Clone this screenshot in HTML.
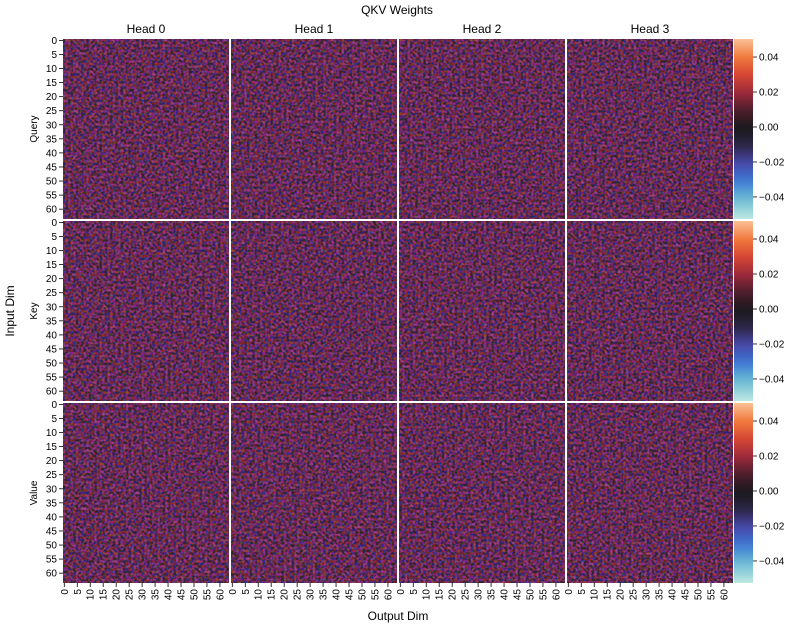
<!DOCTYPE html>
<html><head><meta charset="utf-8"><style>
body{margin:0;background:#fff}
svg{display:block;font-family:"Liberation Sans","DejaVu Sans",sans-serif}
</style></head><body>
<svg id="fig" width="793" height="626" viewBox="0 0 793 626">
<defs>
<linearGradient id="cbg" x1="0" y1="1" x2="0" y2="0"></linearGradient>
<filter id="noise" x="0" y="0" width="100%" height="100%">
<feTurbulence type="fractalNoise" baseFrequency="0.38" numOctaves="1" seed="3"/>
<feColorMatrix type="matrix" values="1.6 0.5 0 0 -0.9  0 0.2 0 0 -0.1  0 0.3 1.6 0 -0.85  0 0 0 0 0.55"/>
</filter>
</defs>
<text x="397" y="14" text-anchor="middle" font-size="12">QKV Weights</text>
<text x="14" y="311" text-anchor="middle" font-size="12" transform="rotate(-90 14 311)">Input Dim</text>
<text x="398" y="620" text-anchor="middle" font-size="12">Output Dim</text>
<g id="plots"></g>
</svg>
<script>
const heads = ["Head 0","Head 1","Head 2","Head 3"];
const rowsLabels = ["Query","Key","Value"];
const panelMeans = [0.000,0.000,0.000,-0.001, 0.000,-0.001,0.000,-0.001, 0.000,0.000,-0.001,0.000];
const panelSpread = [0.048,0.048,0.048,0.048, 0.048,0.048,0.048,0.048, 0.048,0.048,0.048,0.048];
const tickIdx = [0,5,10,15,20,25,30,35,40,45,50,55,60];
const cbTicks = [0.04,0.02,0.00,-0.02,-0.04];
const vmin=-0.0526, vmax=0.0503, nCells=64;
const stops=[[-0.0526,[190,232,226]],[-0.04,[100,182,210]],[-0.03,[60,115,212]],[-0.02,[72,70,165]],[-0.01,[42,36,64]],[0,[26,25,28]],[0.01,[80,30,45]],[0.02,[160,42,60]],[0.03,[215,72,52]],[0.04,[240,122,62]],[0.0503,[250,192,150]]];
function cmap(v){v=Math.max(vmin,Math.min(vmax,v));for(let i=1;i<stops.length;i++){if(v<=stops[i][0]){const a=stops[i-1],b=stops[i],t=(v-a[0])/(b[0]-a[0]);return a[1].map((c,k)=>c+(b[1][k]-c)*t);}}return stops[stops.length-1][1];}
function avgColor(m,s){let acc=[0,0,0],n=40;for(let i=0;i<n;i++){const c=cmap(m-s+2*s*(i+0.5)/n);acc=acc.map((x,k)=>x+c[k]);}return 'rgb('+acc.map(x=>Math.round(x/n*0.92)).join(',')+')';}
const NS="http://www.w3.org/2000/svg";
const g=document.getElementById('plots');
function el(t,a,p){const e=document.createElementNS(NS,t);for(const k in a)e.setAttribute(k,a[k]);(p||g).appendChild(e);return e;}
const colX=[63,231,399,567], rowY=[39,221,403], pw=166, ph=180;
const xS=(c,i)=>colX[c]+(i+0.5)*pw/nCells, yS=(r,i)=>rowY[r]+(i+0.5)*ph/nCells;
const cbY=(r,v)=>rowY[r]+(vmax-v)/(vmax-vmin)*ph;
const gr=document.getElementById('cbg');
for(let i=0;i<=20;i++){const v=vmin+(vmax-vmin)*i/20;const c=cmap(v);el('stop',{offset:(i/20),'stop-color':'rgb('+c.map(Math.round).join(',')+')'},gr);}
heads.forEach((h,c)=>{const t=el('text',{x:colX[c]+pw/2,y:33,'text-anchor':'middle','font-size':12});t.textContent=h;

});
rowsLabels.forEach((lab,r)=>{
 const t=el('text',{x:37,y:rowY[r]+ph/2,'text-anchor':'middle','font-size':10,transform:'rotate(-90 37 '+(rowY[r]+ph/2)+')'});t.textContent=lab;
 
 
 heads.forEach((h,c)=>{
  const k=r*4+c;
  const rc=el('rect',{x:colX[c],y:rowY[r],width:pw,height:ph,fill:avgColor(panelMeans[k],panelSpread[k])});
  
  
  const nz=el('rect',{x:colX[c],y:rowY[r],width:pw,height:ph,filter:'url(#noise)'});
  
  
 });
 tickIdx.forEach(i=>{const y=yS(r,i);el('line',{x1:59,x2:63,y1:y,y2:y,stroke:'#000','stroke-width':0.8});
  const tt=el('text',{x:57,y:y+3.5,'text-anchor':'end','font-size':10});tt.textContent=i;
  
  });
 const cb=el('rect',{x:734,y:rowY[r],width:19,height:ph,fill:'url(#cbg)'});
 
 
 cbTicks.forEach(v=>{const y=cbY(r,v);el('line',{x1:753,x2:757,y1:y,y2:y,stroke:'#000','stroke-width':0.8});
  const tt=el('text',{x:759,y:y+3.5,'font-size':10});tt.textContent=(v<0?'\u2212':'')+Math.abs(v).toFixed(2);
  
  });
});
heads.forEach((h,c)=>{tickIdx.forEach(i=>{const x=xS(c,i);el('line',{x1:x,x2:x,y1:583,y2:587,stroke:'#000','stroke-width':0.8});
 const tt=el('text',{x:x+3.5,y:589,'text-anchor':'end','font-size':10,transform:'rotate(-90 '+(x+3.5)+' 589)'});tt.textContent=i;
 
 });});
</script>
</body></html>
